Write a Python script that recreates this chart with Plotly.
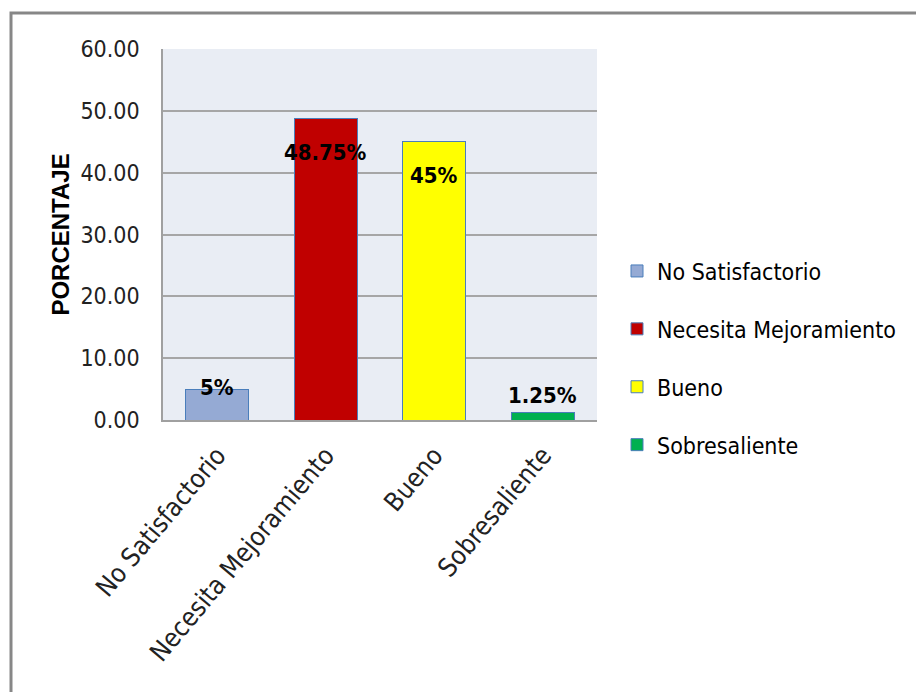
import plotly.graph_objects as go

# Evaluation results by category (percent of respondents)
categories = ["No Satisfactorio", "Necesita Mejoramiento", "Bueno", "Sobresaliente"]
percentages = [5, 48.75, 45, 1.25]
value_labels = ["5%", "48.75%", "45%", "1.25%"]
bar_colors = ["#95AAD4", "#C00000", "#FFFF00", "#00B050"]
y_ticks = [0, 10, 20, 30, 40, 50, 60]

# vertical nudge (px) of each value label relative to its bar top
label_shift = [2, -34, -34, 17]

COND = "DejaVu Sans Condensed"
WIDE = "Liberation Sans, Arial, sans-serif"

fig = go.Figure()
for i, cat in enumerate(categories):
    fig.add_trace(go.Bar(
        x=[cat], y=[percentages[i]], name=cat,
        legendgroup=cat,
        marker=dict(color=bar_colors[i], line=dict(color="#4A7EBB", width=1)),
        width=0.58,
    ))

for i, cat in enumerate(categories):
    fig.add_annotation(
        x=cat, y=percentages[i], text=value_labels[i],
        showarrow=False, yshift=label_shift[i],
        font=dict(family=COND, size=22, color="#000000", weight="bold"),
    )

# outer chart frame
L, T, W, H = 163, 49, 434, 371
def px_x(p):
    return (p - L) / W
def px_y(p):
    return (T + H - p) / H
fig.add_shape(type="rect", xref="paper", yref="paper",
              x0=px_x(11), x1=px_x(960), y0=px_y(740), y1=px_y(13),
              line=dict(color="#878787", width=3), layer="below")

fig.update_layout(
    width=916, height=692,
    margin=dict(l=L, r=916 - L - W, t=T, b=692 - T - H, autoexpand=False),
    paper_bgcolor="#FFFFFF",
    plot_bgcolor="#E9EDF4",
    barmode="stack",
    showlegend=True,
    legend=dict(
        x=px_x(617), xanchor="left", y=px_y(358), yanchor="middle",
        font=dict(family=COND, size=23, color="#000000"),
        tracegroupgap=25, itemwidth=30, bgcolor="rgba(0,0,0,0)",
    ),
    font=dict(family=COND, size=23, color="#222222"),
)

fig.update_xaxes(
    type="category", tickangle=-50, showgrid=False,
    showline=True, linecolor="#A0A0A0", linewidth=1.5,
    ticks="", ticklabelstandoff=8,
    tickfont=dict(family=COND, size=26, color="#222222"),
)
fig.update_yaxes(
    range=[0, 60], tickvals=y_ticks, tickformat=".2f",
    showgrid=True, gridcolor="#A6A6A6", gridwidth=1.5,
    showline=True, linecolor="#A0A0A0", linewidth=1.5,
    ticks="", ticklen=0, ticklabelstandoff=17,
    tickfont=dict(family=COND, size=23, color="#222222"),
    title=dict(text="PORCENTAJE", standoff=4,
               font=dict(family=WIDE, size=24, color="#000000", weight="bold")),
    zeroline=False,
)

fig.write_html("out.html")
